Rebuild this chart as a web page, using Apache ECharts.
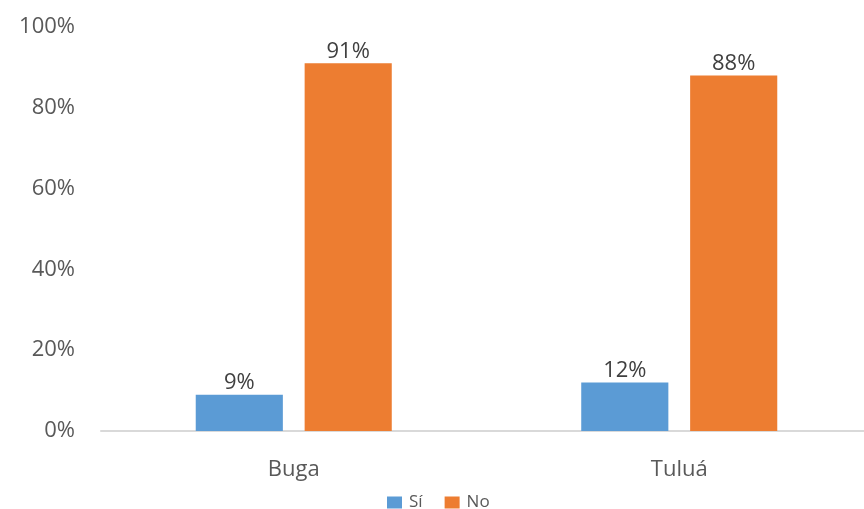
<!DOCTYPE html>
<html><head><meta charset="utf-8">
<script src="https://cdn.jsdelivr.net/npm/echarts@6/dist/echarts.min.js"></script>
<style>html,body{margin:0;padding:0;background:#fff}#c{width:864px;height:509px}</style>
</head><body><div id="c"></div>
<script>
const categories = ['Buga', 'Tuluá'];
const seriesNames = ['Sí', 'No'];
const siValues = [9, 12];
const noValues = [91, 88];
const yTicks = [0, 20, 40, 60, 80, 100];

const chart = echarts.init(document.getElementById('c'));
const font = '"Open Sans", sans-serif';
const label = {show: true, position: 'top', formatter: p => p.value + '%', color: '#404040', fontSize: 22, fontFamily: font, distance: 1};
chart.setOption({
  animation: false,
  grid: {left: 101, width: 771, top: 27, height: 404, outerBoundsMode: 'none', containLabel: false},
  legend: {top: 489, left: 382, itemWidth: 15, itemHeight: 12, itemGap: 22,
    textStyle: {color: '#595959', fontSize: 17, fontFamily: font, padding: [0, 0, 0, 2]}, icon: 'rect', data: seriesNames},
  xAxis: {type: 'category', data: categories,
    axisLine: {lineStyle: {color: '#D9D9D9', width: 2}}, axisTick: {show: false},
    axisLabel: {color: '#595959', fontSize: 22, fontFamily: font, margin: 28}},
  yAxis: {type: 'value', min: yTicks[0], max: yTicks[yTicks.length-1], interval: 20,
    axisLine: {show: false}, axisTick: {show: false}, splitLine: {show: false},
    axisLabel: {color: '#595959', fontSize: 22, fontFamily: font, margin: 26, formatter: v => v + '%'}},
  series: [
    {name: seriesNames[0], type: 'bar', data: siValues, barWidth: '22.6%', barGap: '25%', itemStyle: {color: '#5B9BD5'}, label: label},
    {name: seriesNames[1], type: 'bar', data: noValues, barWidth: '22.6%', barGap: '25%', itemStyle: {color: '#ED7D31'}, label: label}
  ]
});
</script></body></html>
